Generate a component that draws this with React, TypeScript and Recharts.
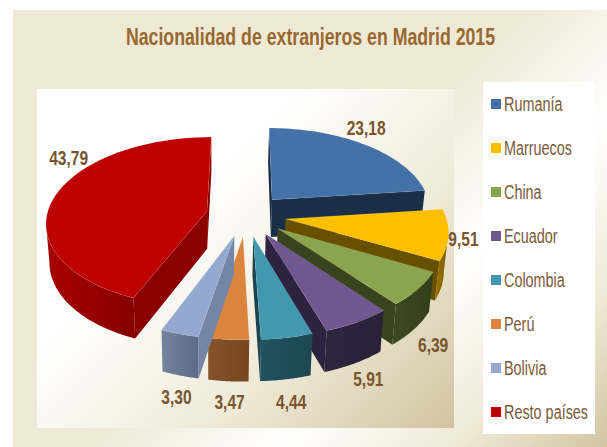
import { PieChart, Pie, Legend } from "recharts";

const CATEGORIES = ["Rumanía", "Marruecos", "China", "Ecuador", "Colombia", "Perú", "Bolivia", "Resto países"];
const VALUES = [23.18, 9.51, 6.39, 5.91, 4.44, 3.47, 3.3, 43.79];
const COLORS = ["#4471a8", "#fdbf00", "#8aa54d", "#71578f", "#4198af", "#db843d", "#93a9cf", "#bf0000"];
const WALL_LIGHT = ["#1b3049", "#9a7400", "#3b4a22", "#30253f", "#21525f", "#85532a", "#74849f", "#a80000"];
const WALL_DARK = ["#182b42", "#7a5c00", "#323f1c", "#2a2038", "#1d4652", "#754620", "#5c6a85", "#860000"];
const SIDE_WALLS = ["#1a2e47", "#675000", "#37441f", "#2d2340", "#1b4450", "#6a4020", "#7485a6", "#8b0000"];
const LABEL_NUDGE = [[1, -16], [15, 4], [15, 56], [11, 57], [4, 65], [1, 63], [-3, 63], [13, -37]];

const chartData = CATEGORIES.map((name, i) => ({ name, value: VALUES[i], fill: COLORS[i] }));

// no narrow face installed, so Liberation Sans gets squeezed horizontally
const TEXT_FONT = '"Liberation Sans", sans-serif';
const EXPLODE = 0.25;
const PERSPECTIVE = 0.126;
const SQUASH = 84.2 / 160;
const WALL_PIVOT = 215;

type Pt = { x: number; y: number; depth: number };

// flat disc position (unit radius) -> screen, nearer points come out larger
function project(cx: number, cy: number, R: number, angle: number, mid: number, r: number): Pt {
  const rad = (angle * Math.PI) / 180;
  const midRad = (mid * Math.PI) / 180;
  const X = r * Math.cos(rad) + EXPLODE * Math.cos(midRad);
  const Y = -r * Math.sin(rad) - EXPLODE * Math.sin(midRad);
  const k = 1 / (1 - PERSPECTIVE * Y);
  return { x: cx + R * X * k, y: cy + R * SQUASH * Y * k, depth: Y };
}

function lower(p: Pt): Pt {
  return { x: WALL_PIVOT + (p.x - WALL_PIVOT) * 0.98, y: p.y + 38 + 3 * p.depth, depth: p.depth };
}

function toPath(points: Pt[]) {
  return "M" + points.map((p) => `${p.x.toFixed(2)},${p.y.toFixed(2)}`).join("L") + "Z";
}

function Slice3D(props: any) {
  const { cx, cy, outerRadius, startAngle, endAngle, midAngle, payload } = props;
  const idx = CATEGORIES.indexOf(payload?.name ?? props.name);
  const mid = midAngle ?? (startAngle + endAngle) / 2;
  const steps = 48;
  const rim: Pt[] = [];
  for (let s = 0; s <= steps; s++) {
    rim.push(project(cx, cy, outerRadius, startAngle + ((endAngle - startAngle) * s) / steps, mid, 1));
  }
  const apex = project(cx, cy, outerRadius, mid, mid, 0);
  const visibleRim: Pt[] = [];
  rim.forEach((p, s) => {
    const next = rim[s + 1];
    const prev = rim[s - 1];
    if ((next && next.x < p.x) || (prev && p.x < prev.x)) visibleRim.push(p);
  });
  const first = rim[0];
  const last = rim[rim.length - 1];
  const gradId = `wall-grad-${idx}`;
  return (
    <g>
      <defs>
        <linearGradient id={gradId} x1="0" y1="0" x2="1" y2="0">
          <stop offset="0%" stopColor={WALL_LIGHT[idx]} />
          <stop offset="100%" stopColor={WALL_DARK[idx]} />
        </linearGradient>
      </defs>
      {first.x < apex.x && (
        <path d={toPath([apex, first, lower(first), lower(apex)])} fill={SIDE_WALLS[idx]} />
      )}
      {apex.x < last.x - 3 && (
        <path d={toPath([last, apex, lower(apex), lower(last)])} fill={SIDE_WALLS[idx]} />
      )}
      {visibleRim.length > 1 && (
        <path
          d={toPath([...visibleRim, ...visibleRim.map((p) => lower(p)).reverse()])}
          fill={`url(#${gradId})`}
        />
      )}
      <path
        d={toPath([apex, ...rim])}
        fill={COLORS[idx]}
        stroke="#ffffff"
        strokeOpacity={0.12}
        strokeWidth={0.8}
      />
    </g>
  );
}

function renderValueLabel(props: any) {
  const { cx, cy, outerRadius, midAngle, value, index } = props;
  const p = project(cx, cy, outerRadius, midAngle, midAngle, 1);
  const x = p.x + LABEL_NUDGE[index][0];
  const y = p.y + LABEL_NUDGE[index][1];
  return (
    <text
      transform={`translate(${x},${y}) scale(0.76,1)`}
      textAnchor="middle"
      dominantBaseline="central"
      fill="#79552f"
      fontFamily={TEXT_FONT}
      fontWeight="bold"
      fontSize={20.5}
    >
      {value.toFixed(2).replace(".", ",")}
    </text>
  );
}

function renderLegend(props: any) {
  const items = props.payload ?? [];
  return (
    <div style={{ width: 112, height: 352, background: "#fff" }}>
      {items.map((entry: any) => (
        <div
          key={entry.value}
          style={{
            height: 44,
            display: "flex",
            alignItems: "center",
            paddingLeft: 8,
            fontFamily: TEXT_FONT,
            fontSize: 20,
            color: "#7a5a36",
            whiteSpace: "nowrap",
          }}
        >
          <span style={{ width: 10, height: 10, background: entry.color, marginRight: 3, flex: "none" }} />
          <span style={{ display: "inline-block", transform: "scaleX(0.72)", transformOrigin: "left center" }}>
            {entry.value}
          </span>
        </div>
      ))}
    </div>
  );
}

export default function App() {
  return (
    <div style={{ position: "absolute", left: 0, top: 0, width: 607, height: 447, background: "#fff", overflow: "hidden" }}>
      <div
        style={{
          position: "absolute",
          left: 13,
          top: 10,
          width: 594,
          height: 437,
          background: "linear-gradient(135deg, #efead6 50%, #ffffff 68%, #efead6 85%, #d2c4a2 100%)",
        }}
      />
      <div
        style={{
          position: "absolute",
          left: 37,
          top: 89,
          width: 417,
          height: 339,
          background: "linear-gradient(135deg, #ffffff 35%, #efead6 68%, #d2c4a2 100%)",
        }}
      />
      <div
        style={{
          position: "absolute",
          left: 0,
          top: 23,
          width: 621,
          textAlign: "center",
          fontFamily: TEXT_FONT,
          fontWeight: "bold",
          fontSize: 24,
          color: "#99682f",
          whiteSpace: "nowrap",
          transform: "scaleX(0.738)",
        }}
      >
        Nacionalidad de extranjeros en Madrid 2015
      </div>
      <div style={{ position: "absolute", left: 0, top: 0 }}>
        <PieChart width={607} height={447} margin={{ top: 0, right: 0, bottom: 0, left: 0 }}>
          <Pie
            data={chartData}
            dataKey="value"
            nameKey="name"
            cx={246}
            cy={215}
            innerRadius={0}
            outerRadius={160}
            startAngle={90}
            endAngle={-270}
            stroke="none"
            shape={Slice3D}
            inactiveShape={Slice3D}
            label={renderValueLabel}
            labelLine={false}
            isAnimationActive={false}
          />
          <Legend
            layout="vertical"
            align="right"
            verticalAlign="top"
            itemSorter={null}
            wrapperStyle={{ left: 483, top: 82, width: 112, height: 352 }}
            content={renderLegend}
          />
        </PieChart>
      </div>
    </div>
  );
}
